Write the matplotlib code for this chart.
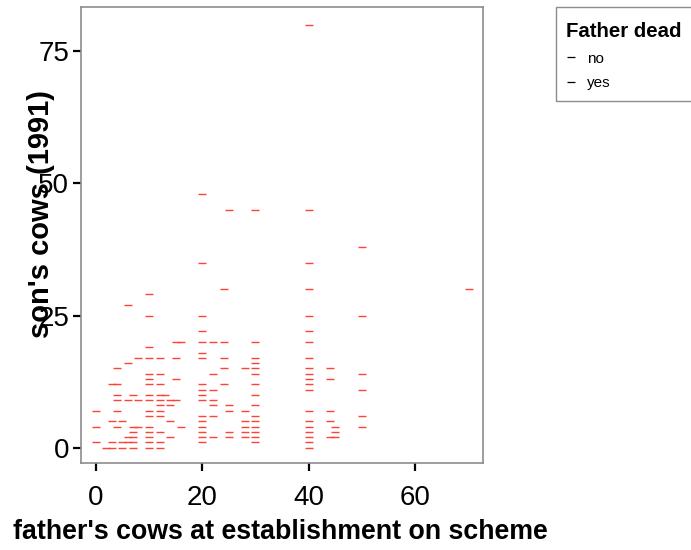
import matplotlib
matplotlib.use("Agg")
from matplotlib import pyplot as plt
from matplotlib.lines import Line2D
from matplotlib.patches import Rectangle

# son's cows (1991) -> list of father's cows at establishment with that value
rows = {
    0:  [2, 3, 5, 7, 10, 12, 40],
    1:  [0, 3, 5, 6, 7, 10, 12, 20, 30, 40],
    2:  [6, 7, 10, 14, 20, 22, 25, 28, 30, 40, 44, 45],
    3:  [7, 10, 12, 20, 25, 28, 30, 40, 45],
    4:  [0, 4, 7, 8, 10, 16, 20, 28, 30, 40, 45, 50],
    5:  [3, 5, 14, 20, 28, 30, 40, 44],
    6:  [10, 12, 20, 22, 30, 50],
    7:  [0, 4, 10, 12, 25, 28, 40, 44],
    8:  [12, 14, 22, 25, 30],
    9:  [4, 6, 8, 10, 12, 14, 15, 20, 22],
    10: [4, 7, 10, 12, 13, 20, 30],
    11: [20, 22, 40, 50],
    12: [3, 4, 10, 12, 20, 24, 30, 40],
    13: [10, 15, 40, 44],
    14: [10, 12, 22, 30, 40, 50],
    15: [4, 24, 28, 30, 40, 44],
    16: [6, 30],
    17: [8, 10, 12, 15, 20, 24, 30, 40],
    18: [20],
    19: [10],
    20: [15, 16, 20, 22, 24, 30, 40],
    22: [20, 40],
    25: [10, 20, 40, 50],
    27: [6],
    29: [10],
    30: [24, 40, 70],
    35: [20, 40],
    38: [50],
    45: [25, 30, 40],
    48: [20],
    80: [40],
}

father_cows = []
son_cows = []
for y, xs in rows.items():
    for x in xs:
        father_cows.append(x)
        son_cows.append(y)

x_ticks = [0, 20, 40, 60]
y_ticks = [0, 25, 50, 75]
groups = ["no", "yes"]

plt.rcParams["font.family"] = ["Liberation Sans", "DejaVu Sans"]

fig = plt.figure(figsize=(6.91, 5.5), dpi=100)
ax = fig.add_axes([81 / 691, 1 - 463 / 550, 402 / 691, 456 / 550])

ax.plot(father_cows, son_cows, linestyle="none", marker="_",
        markersize=6, markeredgewidth=1.0, color="#ff4236")

ax.set_xlim(-2.75, 72.7)
ax.set_ylim(-2.9, 83.4)
ax.set_xticks(x_ticks)
ax.set_yticks(y_ticks)
ax.tick_params(length=5.5, width=1.6, labelsize=20, color="black")
ax.tick_params(axis="x", pad=10)
ax.tick_params(axis="y", pad=3)
for s in ax.spines.values():
    s.set_color("#8c8c8c")
    s.set_linewidth(1.2)

ax.set_xlabel("father's cows at establishment on scheme", fontsize=19.3, fontweight="bold")
ax.set_ylabel("son's cows (1991)", fontsize=21, fontweight="bold")
ax.xaxis.set_label_coords(0.495, -0.123)
ax.yaxis.set_label_coords(-0.065, 0.546)

# legend: frame drawn separately so it can run off the right edge
fig.patches.append(Rectangle((556 / 691, 1 - 101 / 550), 200 / 691, 94 / 550,
                             transform=fig.transFigure, fill=False,
                             edgecolor="#8c8c8c", linewidth=1.0))
handles = [Line2D([], [], linestyle="none", marker="_", markersize=6,
                  markeredgewidth=0.9, color="black") for g in groups]
leg = fig.legend(handles, groups, title="Father dead", loc="upper left",
                 bbox_to_anchor=(566 / 691, 1 - 22 / 550), alignment="left",
                 fontsize=11, title_fontproperties={"weight": "bold", "size": 14.7},
                 frameon=False, handlelength=0.7, handletextpad=0.7,
                 borderpad=0, labelspacing=0.7, borderaxespad=0)

fig.savefig("out.png", dpi=100)
